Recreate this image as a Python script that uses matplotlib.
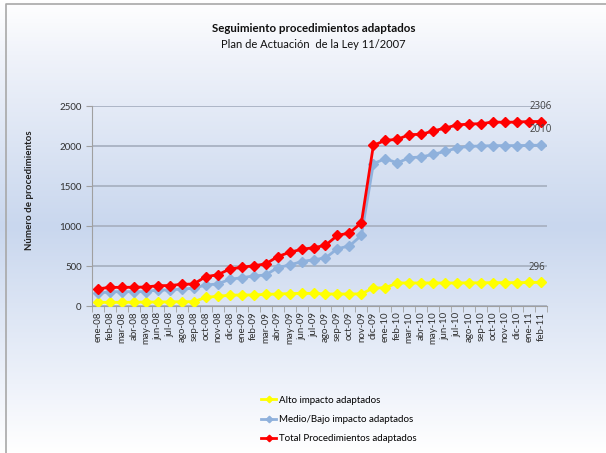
import numpy as np
import matplotlib
matplotlib.use("Agg")
import matplotlib.pyplot as plt
from matplotlib.colors import LinearSegmentedColormap

plt.rcParams['font.family'] = ['Lato', 'DejaVu Sans']

# ===== Data =====
meses = ['ene-08', 'feb-08', 'mar-08', 'abr-08', 'may-08', 'jun-08', 'jul-08', 'ago-08',
         'sep-08', 'oct-08', 'nov-08', 'dic-08', 'ene-09', 'feb-09', 'mar-09', 'abr-09',
         'may-09', 'jun-09', 'jul-09', 'ago-09', 'sep-09', 'oct-09', 'nov-09', 'dic-09',
         'ene-10', 'feb-10', 'mar-10', 'abr-10', 'may-10', 'jun-10', 'jul-10', 'ago-10',
         'sep-10', 'oct-10', 'nov-10', 'dic-10', 'ene-11', 'feb-11']

alto = [46, 46, 46, 48, 50, 50, 52, 54, 54, 108, 121, 135, 138, 138, 146, 150, 155, 158,
        158, 150, 150, 150, 152, 225, 228, 288, 288, 288, 288, 288, 288, 290, 290, 292,
        292, 292, 294, 296]

medio = [158, 179, 179, 180, 180, 200, 200, 213, 221, 263, 275, 333, 354, 375, 388, 479,
         513, 554, 579, 600, 717, 750, 883, 1779, 1842, 1788, 1854, 1863, 1896, 1933,
         1975, 1996, 2000, 2005, 2005, 2005, 2008, 2010]

total = [215, 233, 233, 235, 237, 254, 256, 271, 275, 367, 390, 462, 483, 504, 525, 617,
         671, 708, 729, 758, 883, 912, 1042, 2008, 2071, 2083, 2142, 2146, 2188, 2225,
         2263, 2275, 2279, 2300, 2296, 2300, 2306, 2306]

# ===== Figure with gradient background =====
fig = plt.figure(figsize=(6.06, 4.53), dpi=100)
bg = fig.add_axes([0, 0, 1, 1], zorder=-10)
grad = LinearSegmentedColormap.from_list(
    'bg', [(0.0, '#ffffff'), (0.12, '#f0f3fa'), (0.5, '#c9d7ee'), (0.85, '#eef2fa'), (1.0, '#ffffff')])
bg.imshow(np.linspace(0, 1, 256).reshape(-1, 1), aspect='auto', cmap=grad,
          extent=[0, 1, 0, 1], origin='upper')
bg.plot([6 / 606, 6 / 606, 1], [0, 1 - 4 / 453, 1 - 4 / 453], color='#a8a8a8', lw=1.2)
bg.set_xlim(0, 1)
bg.set_ylim(0, 1)
bg.axis('off')

ax = fig.add_axes([92 / 606, 1 - 306 / 453, 455 / 606, 200 / 453])
ax.patch.set_alpha(0)

x = np.arange(len(meses))
ax.plot(x, alto, color='#ffff00', lw=2, marker='D', ms=5.5, label='Alto impacto adaptados', zorder=3)
ax.plot(x, medio, color='#8fb1dc', lw=2, marker='D', ms=5.5, label='Medio/Bajo impacto adaptados', zorder=3)
ax.plot(x, total, color='#ff0000', lw=2, marker='D', ms=5.5, label='Total Procedimientos adaptados', zorder=4)

# data labels for last point
for serie, dx in [(total, 0), (medio, 0), (alto, -3)]:
    ax.annotate(str(serie[-1]), (x[-1], serie[-1]), xytext=(dx, 7), textcoords='offset points',
                ha='center', va='bottom', fontsize=7, color='#404040', family='Open Sans',
                zorder=6)

ax.set_xlim(-0.5, len(meses) - 0.5)
ax.set_ylim(0, 2500)
ax.set_yticks([0, 500, 1000, 1500, 2000, 2500])
ax.set_xticks(x)
ax.set_xticklabels(meses, rotation=90, fontsize=7, color='#303030')
ax.tick_params(axis='x', length=0, pad=4)
ax.set_xticks(np.arange(-0.5, len(meses), 1), minor=True)
ax.tick_params(axis='x', which='minor', length=4, color='#a0a0a0')
ax.tick_params(axis='y', labelsize=7, length=4, color='#a0a0a0', labelcolor='#303030')
ax.grid(axis='y', color='#a9b2c2', lw=1.3)
ax.set_axisbelow(True)
for s in ['top', 'right']:
    ax.spines[s].set_visible(False)
ax.spines['left'].set_color('#a0a0a0')
ax.spines['bottom'].set_color('#a0a0a0')

ax.set_ylabel('Número de procedimientos', fontsize=7, fontweight='bold', color='#202020')
ax.yaxis.set_label_coords(-0.128, 0.58)

fig.text(0.517, 1 - 29 / 453, 'Seguimiento procedimientos adaptados', ha='center', va='center',
         fontsize=8.3, fontweight='bold', color='#101010')
fig.text(0.517, 1 - 45 / 453, 'Plan de Actuación  de la Ley 11/2007', ha='center', va='center',
         fontsize=8, color='#101010')

fig.legend(loc='upper left', bbox_to_anchor=(252 / 606, 1 - 387 / 453), frameon=False,
           fontsize=7, handlelength=1.6, labelspacing=1.05, handletextpad=0.3, markerscale=0.6)

plt.savefig('out.png', dpi=100)
